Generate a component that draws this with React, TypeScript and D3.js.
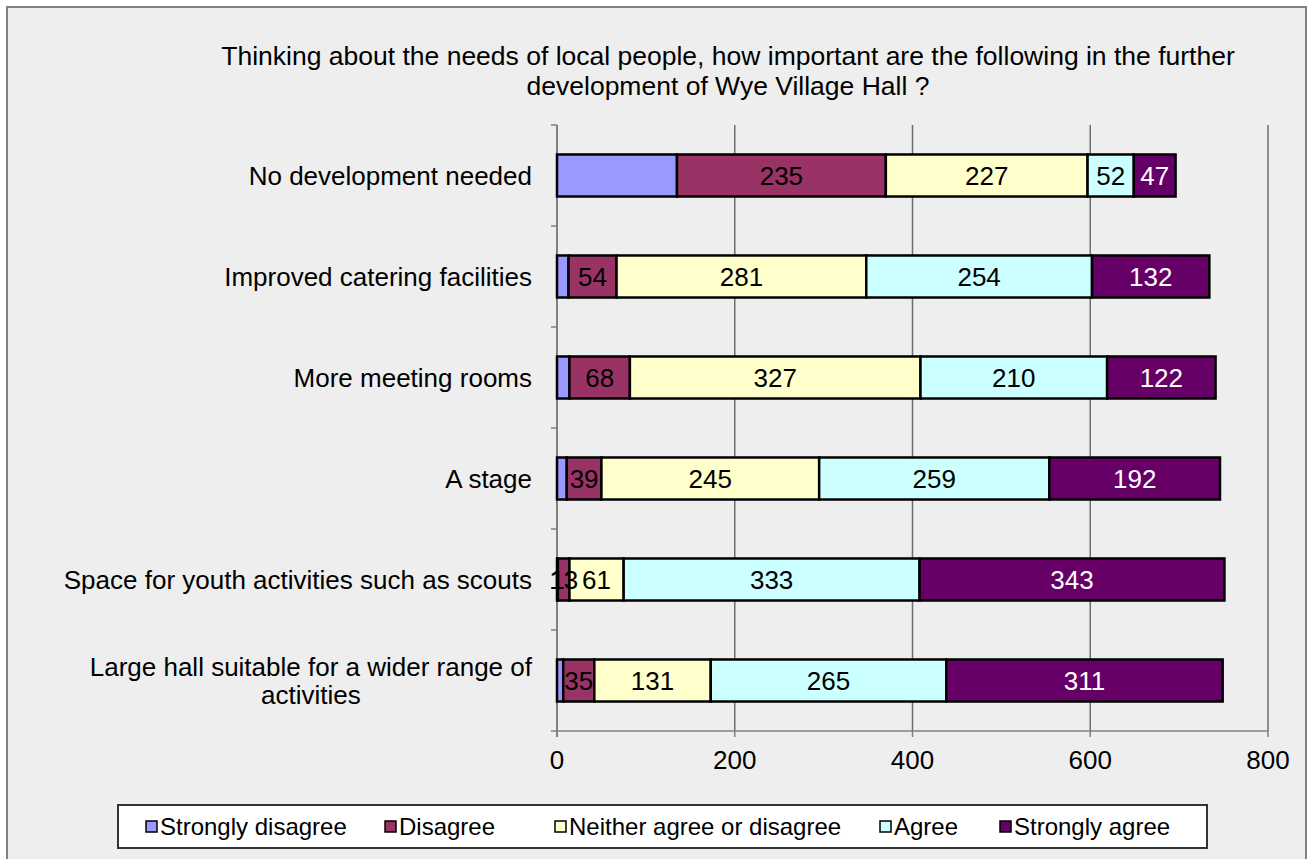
import * as d3 from "d3";
import { useRef, useEffect } from "react";

const categories = [
  "No development needed",
  "Improved catering facilities",
  "More meeting rooms",
  "A stage",
  "Space for youth activities such as scouts",
  "Large hall suitable for a wider range of activities",
];
const seriesNames = [
  "Strongly disagree",
  "Disagree",
  "Neither agree or disagree",
  "Agree",
  "Strongly agree",
];
const stronglyDisagree = [135, 13, 14, 11, 1, 7];
const disagree = [235, 54, 68, 39, 13, 35];
const neither = [227, 281, 327, 245, 61, 131];
const agree = [52, 254, 210, 259, 333, 265];
const stronglyAgree = [47, 132, 122, 192, 343, 311];
// only the one strongly-disagree label is shown in the original
const stronglyDisagreeLabels = ["", "", "", "", "1", ""];
const xTicks = [0, 200, 400, 600, 800];
const colors = ["#9999FF", "#993366", "#FFFFCC", "#CCFFFF", "#660066"];
const labelColors = ["#000", "#000", "#000", "#000", "#fff"];
const titleLines = [
  "Thinking about the needs of local people, how important are the following in the further",
  "development of Wye Village Hall ?",
];

const FONT = "'Liberation Sans', Arial, sans-serif";

function wrap(s: string, max = 41) {
  const words = s.split(" ");
  const lines: string[] = [];
  let cur = "";
  words.forEach((w) => {
    const t = cur ? cur + " " + w : w;
    if (t.length > max && cur) {
      lines.push(cur);
      cur = w;
    } else cur = t;
  });
  lines.push(cur);
  return lines;
}

export default function App() {
  const width = 1312;
  const height = 859;
  const marginLeft = 557;
  const marginRight = 44;
  const marginTop = 125;
  const plotBottom = 731;
  const gy = useRef<SVGGElement>(null);

  const x = d3
    .scaleLinear()
    .domain([0, 800])
    .range([marginLeft, width - marginRight]);

  const y = d3
    .scaleBand<string>()
    .domain(categories)
    .range([marginTop, plotBottom])
    .paddingInner(0.584)
    .paddingOuter(0.292);

  const rows = categories.map((c, i) => ({
    cat: c,
    s0: stronglyDisagree[i],
    s1: disagree[i],
    s2: neither[i],
    s3: agree[i],
    s4: stronglyAgree[i],
  }));
  const keys = ["s0", "s1", "s2", "s3", "s4"];
  const stacked = d3.stack<any>().keys(keys)(rows);
  const allValues = [stronglyDisagree, disagree, neither, agree, stronglyAgree];

  const step = y.step();
  const boundaries = d3.range(categories.length + 1).map((i) => marginTop + i * step);

  useEffect(() => {
    if (!gy.current) return;
    const g = d3.select(gy.current);
    g.selectAll("*").remove();
    categories.forEach((c) => {
      const lines = wrap(c);
      const cy = y(c)! + y.bandwidth() / 2;
      const lh = 28;
      const t = g
        .append("text")
        .attr("font-family", FONT)
        .attr("font-size", 26)
        .attr("fill", "#000");
      const spans = lines.map((l, k) =>
        t
          .append("tspan")
          .attr("y", cy + 9 + (k - (lines.length - 1) / 2) * lh)
          .text(l)
      );
      // centre the wrapped lines on the widest one, right aligned to the axis
      const widths = spans.map((s) => (s.node() as SVGTSpanElement).getComputedTextLength());
      const maxW = d3.max(widths) || 0;
      const cx = marginLeft - 25 - maxW / 2;
      spans.forEach((s) => s.attr("x", cx).attr("text-anchor", "middle"));
    });
  }, [y]);

  const legendX = [146, 385, 555, 880, 1000];

  return (
    <div style={{ position: "absolute", left: 0, top: 0 }}>
      <svg width={width} height={height} style={{ display: "block" }}>
        <rect x={0} y={0} width={width} height={height} fill="#fff" />
        <rect x={7} y={7} width={1299} height={870} fill="#EEEEEE" stroke="#808080" strokeWidth={2} />

        {titleLines.map((t, i) => (
          <text
            key={i}
            x={728}
            y={65 + i * 30}
            textAnchor="middle"
            fontFamily={FONT}
            fontSize={26.5}
            fill="#000"
          >
            {t}
          </text>
        ))}

        {/* gridlines */}
        {xTicks.slice(1).map((t) => (
          <line key={t} x1={x(t)} x2={x(t)} y1={marginTop} y2={plotBottom} stroke="#6e6e6e" strokeWidth={1.5} />
        ))}

        {/* value axis */}
        <line x1={marginLeft} x2={x(800)} y1={plotBottom} y2={plotBottom} stroke="#808080" strokeWidth={1.5} />
        {xTicks.map((t) => (
          <g key={t}>
            <line x1={x(t)} x2={x(t)} y1={plotBottom} y2={plotBottom + 6} stroke="#808080" strokeWidth={1.5} />
            <text x={x(t)} y={769} textAnchor="middle" fontFamily={FONT} fontSize={26} fill="#000">
              {t}
            </text>
          </g>
        ))}

        {/* category axis */}
        <line x1={marginLeft} x2={marginLeft} y1={marginTop} y2={plotBottom + 6} stroke="#808080" strokeWidth={2} />
        {boundaries.map((b, i) => (
          <line key={i} x1={marginLeft - 6} x2={marginLeft} y1={b} y2={b} stroke="#808080" strokeWidth={1.5} />
        ))}
        <g ref={gy} />

        {/* bars */}
        {stacked.map((s, si) => (
          <g key={si}>
            {s.map((d, i) => (
              <rect
                key={i}
                x={x(d[0])}
                y={y(categories[i])}
                width={x(d[1]) - x(d[0])}
                height={y.bandwidth()}
                fill={colors[si]}
                stroke="#000"
                strokeWidth={2.5}
              />
            ))}
          </g>
        ))}
        {stacked.map((s, si) => (
          <g key={"l" + si}>
            {s.map((d, i) => {
              const label = si === 0 ? stronglyDisagreeLabels[i] : String(allValues[si][i]);
              if (!label) return null;
              return (
                <text
                  key={i}
                  x={(x(d[0]) + x(d[1])) / 2}
                  y={y(categories[i])! + y.bandwidth() / 2 + 9}
                  textAnchor="middle"
                  fontFamily={FONT}
                  fontSize={26}
                  fill={labelColors[si]}
                >
                  {label}
                </text>
              );
            })}
          </g>
        ))}

        {/* legend */}
        <rect x={118} y={805} width={1089} height={43} fill="#fff" stroke="#333" strokeWidth={2} />
        {seriesNames.map((n, i) => (
          <g key={n} transform={`translate(${legendX[i]},0)`}>
            <rect x={0} y={821} width={11} height={11} fill={colors[i]} stroke="#000" strokeWidth={1.5} />
            <text x={14} y={835} fontFamily={FONT} fontSize={24} fill="#000">
              {n}
            </text>
          </g>
        ))}
      </svg>
    </div>
  );
}
